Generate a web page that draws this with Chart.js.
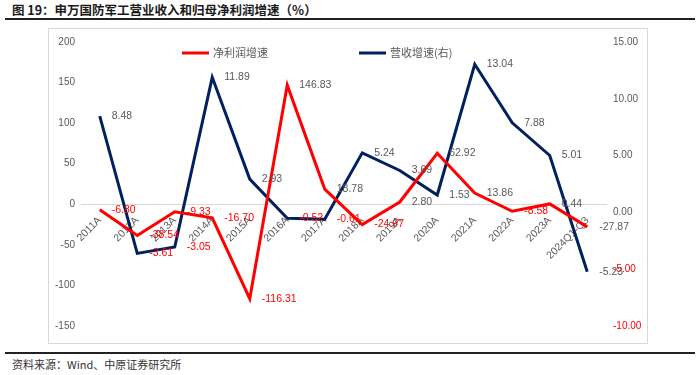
<!DOCTYPE html>
<html>
<head>
<meta charset="utf-8">
<script src="https://cdn.jsdelivr.net/npm/chart.js@4.4.1/dist/chart.umd.min.js"></script>
<style>
  html, body { margin: 0; padding: 0; background: #fff; }
  body { width: 700px; height: 375px; position: relative; overflow: hidden; font-family: "Noto Sans CJK SC", sans-serif; }
  #title { position: absolute; left: 12px; top: 2px; font-size: 12.5px; font-weight: bold; color: #1a1a1a; white-space: nowrap; line-height: 16px; }
  #rule1 { position: absolute; left: 5px; width: 690px; top: 18px; height: 2px; background: #222; }
  #frame { position: absolute; left: 48px; top: 28px; width: 600px; height: 316px; border: 1px solid #d9d9d9; box-sizing: border-box; }
  #rule2 { position: absolute; left: 5px; width: 690px; top: 352px; height: 2px; background: #222; }
  #source { position: absolute; left: 12px; top: 356px; font-size: 11px; color: #333; white-space: nowrap; line-height: 16px; }
</style>
</head>
<body>
<div id="title">图 19：申万国防军工营业收入和归母净利润增速（%）</div>
<div id="rule1"></div>
<div id="frame"><canvas id="c"></canvas></div>
<div id="rule2"></div>
<div id="source">资料来源：Wind、中原证券研究所</div>
<script>
const categories = ['2011A','2012A','2013A','2014A','2015A','2016A','2017A','2018A','2019A','2020A','2021A','2022A','2023A','2024Q1-Q3'];
const profitGrowth = [-6.80, -38.54, -9.33, -16.70, -116.31, 146.83, 18.78, -24.97, 2.80, 62.92, 13.86, -8.58, 0.44, -27.87];
const revenueGrowth = [8.48, -3.61, -3.05, 11.89, 2.93, -0.52, -0.61, 5.24, 3.69, 1.53, 13.04, 7.88, 5.01, -5.23];
const leftTicks = [-150, -100, -50, 0, 50, 100, 150, 200];
const rightTicks = [-10, -5, 0, 5, 10, 15];
const seriesNames = ['净利润增速', '营收增速(右)'];

const RED = '#ff0000', NAVY = '#002060', GRAY = '#595959';
const NUMFONT = '"Liberation Sans", Arial, sans-serif';

const labelPlugin = {
  id: 'labels',
  afterDatasetsDraw(chart) {
    const ctx = chart.ctx;
    ctx.save();
    ctx.font = '10.5px ' + NUMFONT;
    ctx.textAlign = 'left';
    ctx.textBaseline = 'middle';
    chart.data.datasets.forEach((ds, di) => {
      const meta = chart.getDatasetMeta(di);
      meta.data.forEach((el, i) => {
        const v = ds.data[i];
        const last = i === ds.data.length - 1;
        ctx.fillStyle = (v < 0 && !last) ? RED : GRAY;
        ctx.fillText(v.toFixed(2), el.x + 12, el.y);
      });
    });
    // legend
    const ly = 24;
    const items = [[RED, seriesNames[0], 133], [NAVY, seriesNames[1], 310]];
    ctx.font = '11px "Noto Sans CJK SC", sans-serif';
    items.forEach(([col, txt, x0]) => {
      ctx.strokeStyle = col; ctx.lineWidth = 3;
      ctx.beginPath(); ctx.moveTo(x0, ly); ctx.lineTo(x0 + 27, ly); ctx.stroke();
      ctx.fillStyle = GRAY;
      ctx.fillText(txt, x0 + 31, ly);
    });
    ctx.restore();
  }
};

new Chart(document.getElementById('c'), {
  type: 'line',
  data: {
    labels: categories,
    datasets: [
      { label: seriesNames[0], data: profitGrowth, yAxisID: 'y', borderColor: RED, backgroundColor: RED, borderWidth: 3, pointRadius: 0, tension: 0 },
      { label: seriesNames[1], data: revenueGrowth, yAxisID: 'y1', borderColor: NAVY, backgroundColor: NAVY, borderWidth: 3, pointRadius: 0, tension: 0 }
    ]
  },
  options: {
    responsive: true,
    maintainAspectRatio: false,
    animation: false,
    layout: { padding: { top: 8, bottom: 17, left: 0, right: 0 } },
    plugins: { legend: { display: false }, tooltip: { enabled: false } },
    scales: {
      x: {
        type: 'category',
        position: { y: 0 },
        offset: true,
        grid: { display: false, drawTicks: false },
        border: { display: true, color: '#d9d9d9', width: 1 },
        ticks: { autoSkip: false, minRotation: 45, maxRotation: 45, padding: 10, color: GRAY, font: { family: NUMFONT, size: 10.5 } },
        afterFit(s) { s.height = 0; }
      },
      y: {
        position: 'left',
        min: -150, max: 200,
        afterBuildTicks(s) { s.ticks = leftTicks.map(v => ({ value: v })); },
        grid: { display: false, drawTicks: false },
        border: { display: false },
        ticks: { padding: 6, color: GRAY, font: { family: NUMFONT, size: 10 } },
        afterFit(s) { s.width = 32; }
      },
      y1: {
        position: 'right',
        min: -10, max: 15,
        afterBuildTicks(s) { s.ticks = rightTicks.map(v => ({ value: v })); },
        grid: { display: false, drawTicks: false },
        border: { display: false },
        ticks: {
          padding: 7,
          color: (c) => (c.tick && c.tick.value < 0 ? RED : GRAY),
          font: { family: NUMFONT, size: 10 },
          callback: (v) => Number(v).toFixed(2)
        },
        afterFit(s) { s.width = 41; }
      }
    }
  },
  plugins: [labelPlugin]
});
</script>
</body>
</html>
